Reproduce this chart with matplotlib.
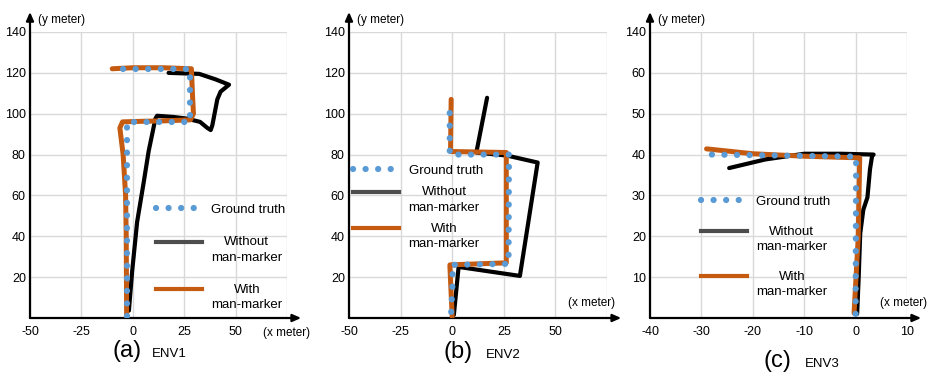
import numpy as np
import matplotlib.pyplot as plt
from matplotlib.lines import Line2D
from matplotlib.legend_handler import HandlerLine2D

plt.rcParams['font.family'] = ['Liberation Sans', 'DejaVu Sans']

# ENV1 trajectories (meters)
gt_a_x = [-3, -3, 28, 28, -9]
gt_a_y = [1, 96, 96, 122, 122]
with_a_x = [-3, -3.2, -3.5, -4.7, -6.3, -5, 5, 15, 28, 29.5, 29, 28.5, 15, 0, -10]
with_a_y = [1, 40, 60, 80, 93, 96, 96.3, 96.5, 97, 100, 110, 122, 122.5, 122.5, 122]
without_a_x = [-1.9, -0.3, 2.1, 5.3, 7.7, 11, 11.8, 19.8, 26.3, 32.7, 36.3, 37.9, 38.7, 41.1, 42.7, 46.8, 40.3, 32.3, 17.4]
without_a_y = [3.6, 23, 47, 66.4, 81.6, 97.6, 99, 98.4, 97.6, 96, 93, 92, 94.4, 107, 110.8, 114.2, 116.8, 119.5, 120]

# ENV2
gt_b_x = [-0.5, 0.3, -0.3, 27.3, 27.5, -1.2, -1.2]
gt_b_y = [3, 20, 26, 26.5, 80, 80, 106.4]
with_b_x = [0, -1.1, -1.1, 26.2, 26.2, -0.8, -0.5]
with_b_y = [0.7, 25, 26, 27, 81, 81.5, 107]
without_b_x = [0.8, 3.1, 32.8, 41.4, 26.6, 11.7, 16.9]
without_b_y = [1.5, 25, 20.6, 76.1, 79.5, 81, 107.8]

# ENV3
gt_c_x = [0, 0.1, -28]
gt_c_y = [1, 39.5, 40]
with_c_x = [-0.3, 0.5, 0.8, -10, -20, -29]
with_c_y = [1.2, 19.4, 39.2, 39.6, 40.2, 41.4]
without_c_x = [0.3, 0.6, 0.9, 1.5, 2.3, 2.8, 3.2, 3.5, -2.8, -10, -17.6, -24.6]
without_c_y = [1, 10, 20.7, 26.5, 29.5, 36.4, 39.6, 40, 40.2, 40.2, 38.8, 36.7]

xticks_ab = [-50, -25, 0, 25, 50, 75]
xlabels_ab = ['-50', '-25', '0', '25', '50', '']
yticks_ab = [20, 40, 60, 80, 100, 120, 140]
xticks_c = [-40, -30, -20, -10, 0, 10]
xlabels_c = ['-40', '-30', '-20', '-10', '0', '10']
yticks_c = [10, 20, 30, 40, 50, 60, 70]
ylabels_c = ['10', '20', '30', '40', '50', '60', '140']

BLUE = '#5B9BD5'
ORANGE = '#C55A11'
DOTS = (0, (0.01, 2))


class FirstLineHandler(HandlerLine2D):
    # put the sample line next to the first line of a two-line label
    def create_artists(self, legend, orig_handle, xdescent, ydescent, width, height, fontsize, trans):
        artists = super().create_artists(legend, orig_handle, xdescent, ydescent,
                                         width, height, fontsize, trans)
        for a in artists:
            a.set_ydata(np.asarray(a.get_ydata()) + 0.62 * fontsize)
        return artists


fig = plt.figure(figsize=(9.3, 3.75), dpi=100)


def make_axes(left, right, xlim, xticks, xlabels, ylim, yticks, ylabels, xlab_pos):
    ax = fig.add_axes([left / 930, 1 - 318 / 375, (right - left) / 930, 286 / 375])
    ax.set_xlim(xlim)
    ax.set_ylim(ylim)
    ax.set_xticks(xticks)
    ax.set_xticklabels(xlabels)
    ax.set_yticks(yticks)
    ax.set_yticklabels(ylabels)
    ax.tick_params(length=0, labelsize=9)
    ax.tick_params(axis='x', pad=6)
    ax.tick_params(axis='y', pad=3)
    ax.grid(True, color='#d9d9d9', lw=1)
    for s in ax.spines.values():
        s.set_visible(False)
    arrow = dict(arrowstyle='-|>,head_width=0.22,head_length=0.5', lw=1.6, color='black',
                 shrinkA=0, shrinkB=0)
    ax.annotate('', xy=(1.055, 0), xytext=(0, 0), xycoords='axes fraction', arrowprops=arrow)
    ax.annotate('', xy=(0, 1.07), xytext=(0, 0), xycoords='axes fraction', arrowprops=arrow)
    ax.text(0.031, 1.042, '(y meter)', transform=ax.transAxes, fontsize=8.5, va='center')
    ax.text(xlab_pos[0], xlab_pos[1], '(x meter)', transform=ax.transAxes, fontsize=8.5, va='center')
    return ax


def draw(ax, gx, gy, wx, wy, ox, oy, leg_pos, spacing):
    ax.plot(ox, oy, color='black', lw=3, solid_capstyle='round', solid_joinstyle='round', zorder=3)
    ax.plot(wx, wy, color=ORANGE, lw=3.6, solid_capstyle='round', solid_joinstyle='round', zorder=4)
    ax.plot(gx, gy, color=BLUE, lw=4.5, ls=DOTS, dash_capstyle='round', zorder=5)
    h_gt = Line2D([], [], color=BLUE, lw=4.5, ls=DOTS, dash_capstyle='round')
    h_wo = Line2D([], [], color='#4d4d4d', lw=3)
    h_w = Line2D([], [], color=ORANGE, lw=3)
    leg = ax.legend([h_gt, h_wo, h_w], ['Ground truth', 'Without\nman-marker', 'With\nman-marker'],
                    loc='upper left', bbox_to_anchor=leg_pos, frameon=False, fontsize=9.5,
                    handlelength=3.5, handletextpad=0.7, labelspacing=spacing,
                    borderpad=0, borderaxespad=0,
                    handler_map={h_wo: FirstLineHandler(), h_w: FirstLineHandler()})
    for t in leg.get_texts():
        t.set_multialignment('center')
        t.set_linespacing(1.37)


ax1 = make_axes(30, 287, (-50, 75), xticks_ab, xlabels_ab, (0, 140), yticks_ab,
                [str(v) for v in yticks_ab], (0.907, -0.052))
draw(ax1, gt_a_x, gt_a_y, with_a_x, with_a_y, without_a_x, without_a_y, (0.49, 0.40), 1.55)

ax2 = make_axes(349, 607, (-50, 75), xticks_ab, xlabels_ab, (0, 140), yticks_ab,
                [str(v) for v in yticks_ab], (0.849, 0.052))
draw(ax2, gt_b_x, gt_b_y, with_b_x, with_b_y, without_b_x, without_b_y, (0.016, 0.536), 0.7)

ax3 = make_axes(650, 907, (-40, 10), xticks_c, xlabels_c, (0, 70), yticks_c, ylabels_c,
                (0.895, 0.052))
draw(ax3, gt_c_x, gt_c_y, with_c_x, with_c_y, without_c_x, without_c_y, (0.198, 0.427), 1.35)

for x, xe, y, tag, env in [(112, 152, 357, '(a)', 'ENV1'), (443, 486, 358, '(b)', 'ENV2'),
                          (763, 805, 367, '(c)', 'ENV3')]:
    fig.text(x / 930, 1 - y / 375, tag, fontsize=17, va='baseline')
    fig.text(xe / 930, 1 - y / 375, env, fontsize=9.5, va='baseline')

fig.savefig('out.png', dpi=100)
